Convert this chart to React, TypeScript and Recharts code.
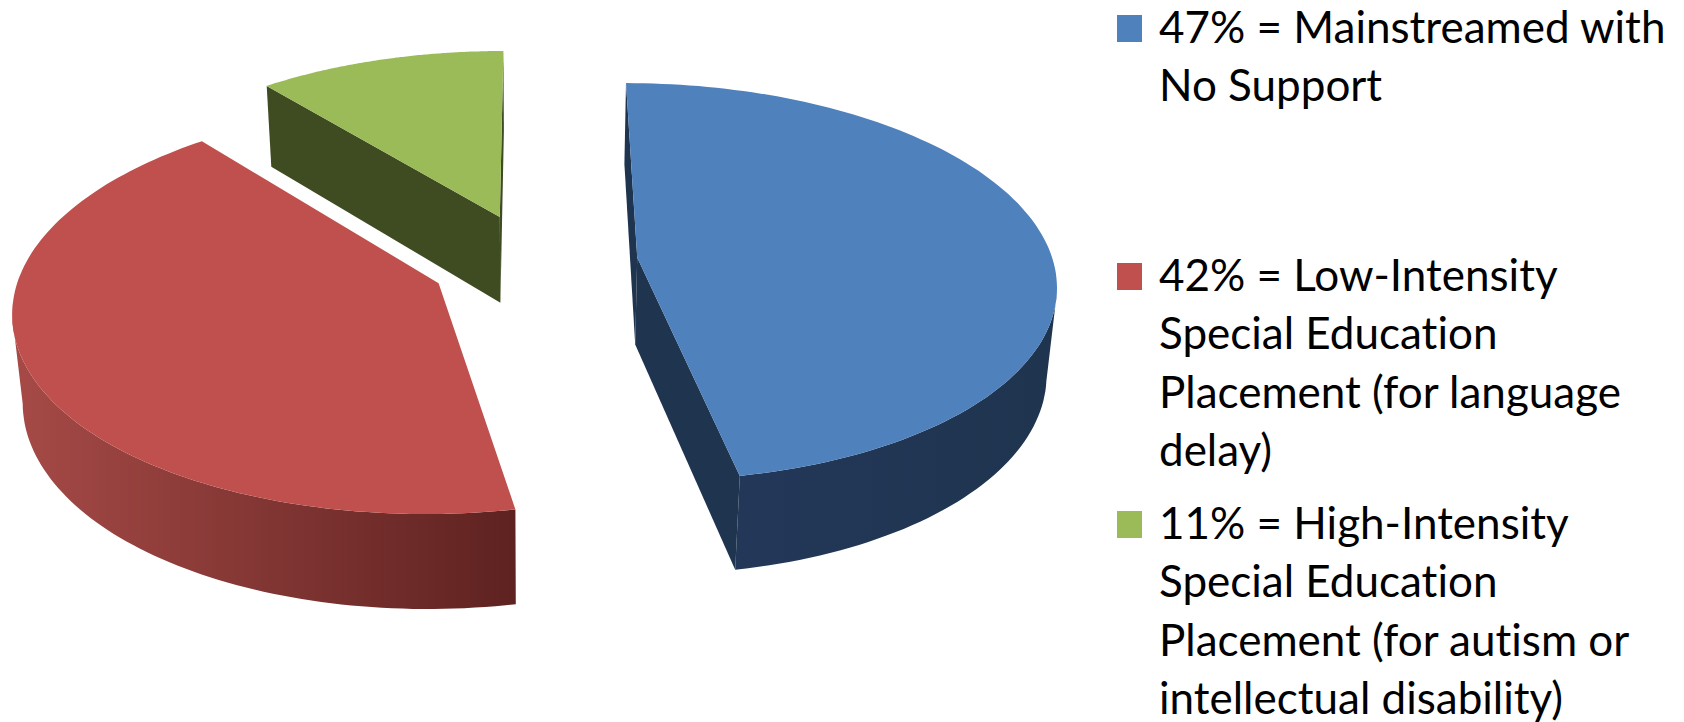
import { PieChart, Pie, Legend } from 'recharts';

const categories = ['Mainstreamed with No Support', 'Low-Intensity Special Education Placement', 'High-Intensity Special Education Placement'];
const values = [47, 42, 11];
const topColors = ['#4f81bd', '#c0504d', '#9bbb59'];
const cutWallColors = ['#1f354f', '#5e2220', '#3f4c22'];
const outerWallFrom = ['#233859', '#a64a47', '#4a5a2a'];
const outerWallTo = ['#1f344e', '#5e2220', '#3f4c22'];
const legendLines = [
  ['47% = Mainstreamed with', 'No Support'],
  ['42% = Low-Intensity', 'Special Education', 'Placement (for language', 'delay)'],
  ['11% = High-Intensity', 'Special Education', 'Placement (for autism or', 'intellectual disability)'],
];
const legendTops = [1, 249, 497];

const data = categories.map((name, i) => ({ name, value: values[i], fill: topColors[i] }));

// projection of the tilted disk
const SQUASH = 0.473;
const PERSP = 0.123;
const SINK = 0.02;
const DEPTH = 89;
const EXPLODE = 0.25;
const RAD = Math.PI / 180;

function project(cx: number, cy: number, r: number, u: number, v: number, z: number) {
  const w = 1 - PERSP * v + SINK * z;
  return [cx + (r * u) / w, cy + (r * SQUASH * v + DEPTH * z) / w];
}

const toPath = (pts: number[][]) =>
  pts.map((p, i) => `${i ? 'L' : 'M'}${p[0].toFixed(1)},${p[1].toFixed(1)}`).join(' ') + ' Z';

function Slice3D(props: any) {
  const { cx, cy, outerRadius: r, startAngle, endAngle, index, fill } = props;
  const mid = ((startAngle + endAngle) / 2) * RAD;
  const du = Math.cos(mid) * EXPLODE;
  const dv = -Math.sin(mid) * EXPLODE;

  const at = (deg: number, z: number) =>
    project(cx, cy, r, du + Math.cos(deg * RAD), dv - Math.sin(deg * RAD), z);
  const apex = (z: number) => project(cx, cy, r, du, dv, z);

  const steps = 120;
  const angles: number[] = [];
  for (let i = 0; i <= steps; i++) angles.push(startAngle + ((endAngle - startAngle) * i) / steps);

  // outer wall: only the part turned towards the viewer
  const front = angles.filter((a, i) => {
    const next = angles[Math.min(i + 1, steps)];
    const prev = angles[Math.max(i - 1, 0)];
    return at(next, 0)[0] < at(prev, 0)[0];
  });
  const outer = front.length > 1
    ? [...front.map((a) => at(a, 0)), ...[...front].reverse().map((a) => at(a, 1))]
    : null;
  const xs = front.map((a) => at(a, 0)[0]);
  const gradId = `wall-${index}`;

  const walls: number[][][] = [];
  const startTop = at(startAngle, 0);
  const endTop = at(endAngle, 0);
  if (startTop[0] < apex(0)[0]) walls.push([apex(0), startTop, at(startAngle, 1), apex(1)]);
  if (apex(0)[0] < endTop[0]) walls.push([endTop, apex(0), apex(1), at(endAngle, 1)]);

  return (
    <g>
      <defs>
        {outer && (
          <linearGradient
            id={gradId}
            gradientUnits="userSpaceOnUse"
            x1={Math.min(...xs)}
            x2={Math.max(...xs)}
            y1={0}
            y2={0}
          >
            <stop offset="0%" stopColor={outerWallFrom[index]} />
            <stop offset="100%" stopColor={outerWallTo[index]} />
          </linearGradient>
        )}
      </defs>
      {outer && <path d={toPath(outer)} fill={`url(#${gradId})`} />}
      {walls.map((w, i) => (
        <path key={i} d={toPath(w)} fill={cutWallColors[index]} />
      ))}
      <path d={toPath([apex(0), ...angles.map((a) => at(a, 0))])} fill={fill} />
    </g>
  );
}

function LegendBlock({ payload }: any) {
  return (
    <div style={{ position: 'relative', width: 567, height: 722, fontFamily: 'Lato', fontSize: 44, lineHeight: '58.4px', fontVariantLigatures: 'none', color: '#000' }}>
      {(payload || []).map((entry: any, i: number) => (
        <div key={i} style={{ position: 'absolute', left: 0, top: legendTops[i], width: 567 }}>
          <div style={{ position: 'absolute', left: 0, top: 14, width: 25, height: 27, background: entry.color }} />
          <div style={{ position: 'relative', top: -4 }}>
            {legendLines[i].map((line) => (
              <div key={line} style={{ marginLeft: 42, whiteSpace: 'nowrap' }}>{line}</div>
            ))}
          </div>
        </div>
      ))}
    </div>
  );
}

export default function App() {
  return (
    <div style={{ position: 'absolute', left: 0, top: 0, width: 1684, height: 722, background: '#fff' }}>
      <PieChart width={1684} height={722} margin={{ top: 0, right: 0, bottom: 0, left: 0 }}>
        <Pie
          data={data}
          dataKey="value"
          nameKey="name"
          cx={534}
          cy={262}
          outerRadius={416}
          startAngle={90}
          endAngle={-270}
          stroke="none"
          shape={Slice3D}
          isAnimationActive={false}
        />
        <Legend
          content={LegendBlock}
          itemSorter={null}
          wrapperStyle={{ position: 'absolute', left: 1117, top: 0, width: 567, height: 722 }}
        />
      </PieChart>
    </div>
  );
}
